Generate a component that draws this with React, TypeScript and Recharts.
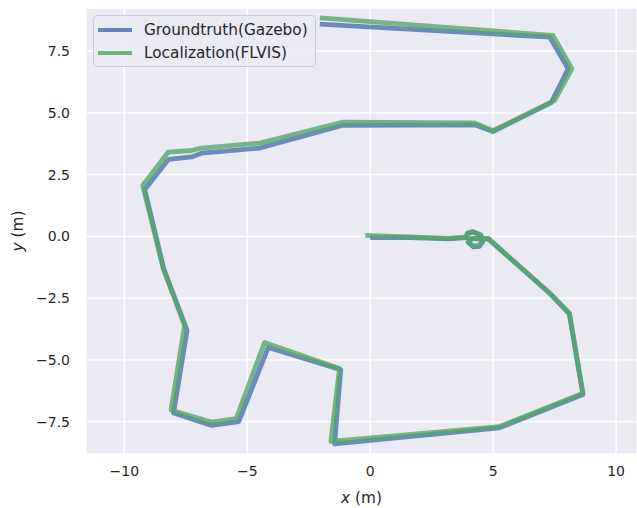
import { CartesianGrid, Line, LineChart, XAxis, YAxis } from 'recharts'

// groundtruth (Gazebo) trajectory
const gtX = [0.0, 1.6, 3.2, 3.9, 3.98, 4.2, 4.5, 4.58, 4.45, 4.2, 4.0, 4.1, 4.8, 7.3, 8.1, 8.65, 5.25, -1.45, -1.2, -4.15, -5.35, -6.45, -8.0, -7.45, -8.4, -9.17, -8.2, -7.27, -6.86, -4.49, -1.1, 4.25, 4.99, 7.36, 8.05, 7.3, -2.05]
const gtY = [-0.05, -0.05, -0.1, -0.05, 0.12, 0.18, 0.05, -0.2, -0.4, -0.42, -0.25, -0.1, -0.1, -2.3, -3.15, -6.4, -7.75, -8.4, -5.4, -4.5, -7.5, -7.65, -7.15, -3.8, -1.3, 1.9, 3.12, 3.22, 3.37, 3.58, 4.5, 4.52, 4.25, 5.42, 6.79, 8.07, 8.6]

// localization (FLVIS) trajectory
const flX = [-0.2, 1.6, 3.2, 3.9, 3.95, 4.15, 4.48, 4.55, 4.42, 4.18, 3.98, 4.1, 4.8, 7.3, 8.1, 8.65, 5.25, -1.6, -1.25, -4.3, -5.45, -6.46, -8.1, -7.55, -8.42, -9.25, -8.22, -7.27, -6.86, -4.49, -1.1, 4.25, 4.99, 7.5, 8.2, 7.43, -2.05]
const flY = [0.04, -0.02, -0.08, -0.02, 0.15, 0.2, 0.07, -0.18, -0.36, -0.38, -0.22, -0.08, -0.08, -2.3, -3.1, -6.35, -7.7, -8.3, -5.35, -4.3, -7.38, -7.52, -7.03, -3.6, -1.3, 2.06, 3.41, 3.48, 3.58, 3.78, 4.63, 4.6, 4.28, 5.51, 6.79, 8.14, 8.85]

const xTicks = [-10, -5, 0, 5, 10]
const yTicks = [-7.5, -5, -2.5, 0, 2.5, 5, 7.5]

const gtData = gtX.map((x, i) => ({ x, y: gtY[i] }))
const flData = flX.map((x, i) => ({ x, y: flY[i] }))

const BLUE = '#4C72B0'
const GREEN = '#55A868'
const FONT = 'DejaVu Sans, sans-serif'
const TEXT = '#262626'

const minus = (s: string) => s.replace('-', '\u2212')

const legendItems = [
  { label: 'Groundtruth(Gazebo)', color: BLUE },
  { label: 'Localization(FLVIS)', color: GREEN },
]

const LegendBox = () => (
  <div
    style={{
      position: 'absolute',
      left: 93,
      top: 15,
      background: 'rgba(234,234,242,0.85)',
      border: '1px solid #cccccc',
      borderRadius: 4,
      padding: '2px 7px 2px 4px',
      fontFamily: FONT,
      fontSize: 15.3,
      color: TEXT,
    }}
  >
    {legendItems.map((item) => (
      <div key={item.label} style={{ display: 'flex', alignItems: 'center', height: 23 }}>
        <svg width={34} height={6} style={{ marginRight: 12 }}>
          <line x1={0} y1={3} x2={34} y2={3} stroke={item.color} strokeWidth={4} strokeOpacity={0.85} />
        </svg>
        <span>{item.label}</span>
      </div>
    ))}
  </div>
)

export default function App() {
  return (
    <div style={{ position: 'absolute', left: 0, top: 0, width: 637, height: 508 }}>
      <LineChart width={637} height={508} margin={{ top: 8, right: 0, left: 0, bottom: 0 }}>
        <CartesianGrid fill="#EAEAF2" stroke="#ffffff" strokeWidth={1.3} />
        <XAxis
          type="number"
          dataKey="x"
          domain={[-11.56, 10.85]}
          ticks={xTicks}
          allowDataOverflow
          axisLine={false}
          tickLine={false}
          height={54}
          tickMargin={6}
          tick={{ fill: TEXT, fontSize: 14, fontFamily: FONT }}
          tickFormatter={(v) => minus(String(v))}
          label={({ viewBox }: any) => (
            <text
              x={viewBox.x + viewBox.width / 2}
              y={viewBox.y + 49}
              textAnchor="middle"
              fill={TEXT}
              fontSize={15.3}
              fontFamily={FONT}
            >
              <tspan fontStyle="italic">x</tspan> (m)
            </text>
          )}
        />
        <YAxis
          type="number"
          dataKey="y"
          domain={[-8.81, 9.25]}
          ticks={yTicks}
          allowDataOverflow
          axisLine={false}
          tickLine={false}
          width={86}
          tickMargin={10}
          tick={{ fill: TEXT, fontSize: 14, fontFamily: FONT }}
          tickFormatter={(v) => minus(Number(v).toFixed(1))}
          label={({ viewBox }: any) => {
            const cx = 23
            const cy = viewBox.y + viewBox.height / 2
            return (
              <text
                x={cx}
                y={cy}
                transform={`rotate(-90 ${cx} ${cy})`}
                textAnchor="middle"
                fill={TEXT}
                fontSize={15.3}
                fontFamily={FONT}
              >
                <tspan fontStyle="italic">y</tspan> (m)
              </text>
            )
          }}
        />
        <Line
          data={gtData}
          dataKey="y"
          type="linear"
          stroke={BLUE}
          strokeWidth={4.8}
          strokeOpacity={0.8}
          strokeLinejoin="round"
          dot={false}
          isAnimationActive={false}
          name="Groundtruth(Gazebo)"
        />
        <Line
          data={flData}
          dataKey="y"
          type="linear"
          stroke={GREEN}
          strokeWidth={4.8}
          strokeOpacity={0.8}
          strokeLinejoin="round"
          dot={false}
          isAnimationActive={false}
          name="Localization(FLVIS)"
        />
      </LineChart>
      <LegendBox />
    </div>
  )
}
